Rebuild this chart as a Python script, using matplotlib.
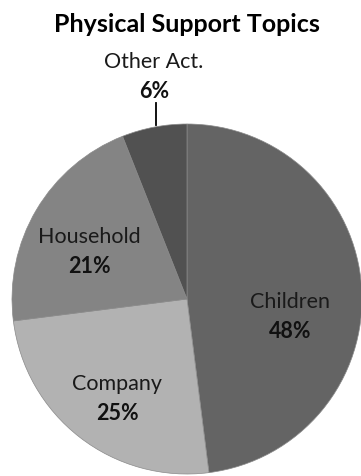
import matplotlib.pyplot as plt
import numpy as np

# Physical support topics, share of mentions (%)
topics = ["Children", "Company", "Household", "Other Act."]
shares = [48, 25, 21, 6]
colors = ["#646464", "#b2b2b2", "#848484", "#515151"]

# label centres in pie units (radius = 1), one per topic
label_pos = [(0.59, -0.10), (-0.40, -0.57), (-0.56, 0.27), (-0.19, 1.27)]

W, H = 361, 476
fig = plt.figure(figsize=(W / 100, H / 100), dpi=100)
cx, cy, r = 187, 299, 175
ax = fig.add_axes([(cx - r) / W, 1 - (cy + r) / H, 2 * r / W, 2 * r / H])

wedges, _ = ax.pie(shares, colors=colors, startangle=90, counterclock=False,
                   wedgeprops=dict(edgecolor="#8a8a8a", linewidth=0.5))
ax.set_xlim(-1, 1)
ax.set_ylim(-1, 1)
ax.set_aspect("equal")
ax.axis("off")

font = "Lato"
dy = 0.085
for name, val, (x, y) in zip(topics, shares, label_pos):
    ax.text(x, y + dy, name, ha="center", va="center", fontsize=15.5,
            family=font, color="#1a1a1a", clip_on=False)
    ax.text(x, y - dy, f"{val}%", ha="center", va="center", fontsize=15.5,
            family=font, fontweight="bold", color="#111111", clip_on=False)

# leader line for the small slice
ax.plot([-0.177, -0.177], [0.995, 1.12], color="black", lw=1.3, clip_on=False)

fig.text(187 / W, 1 - 25 / H, "Physical Support Topics", ha="center", va="center",
         fontsize=18, family=font, fontweight="bold", color="black")

fig.savefig("out.png", dpi=100)
